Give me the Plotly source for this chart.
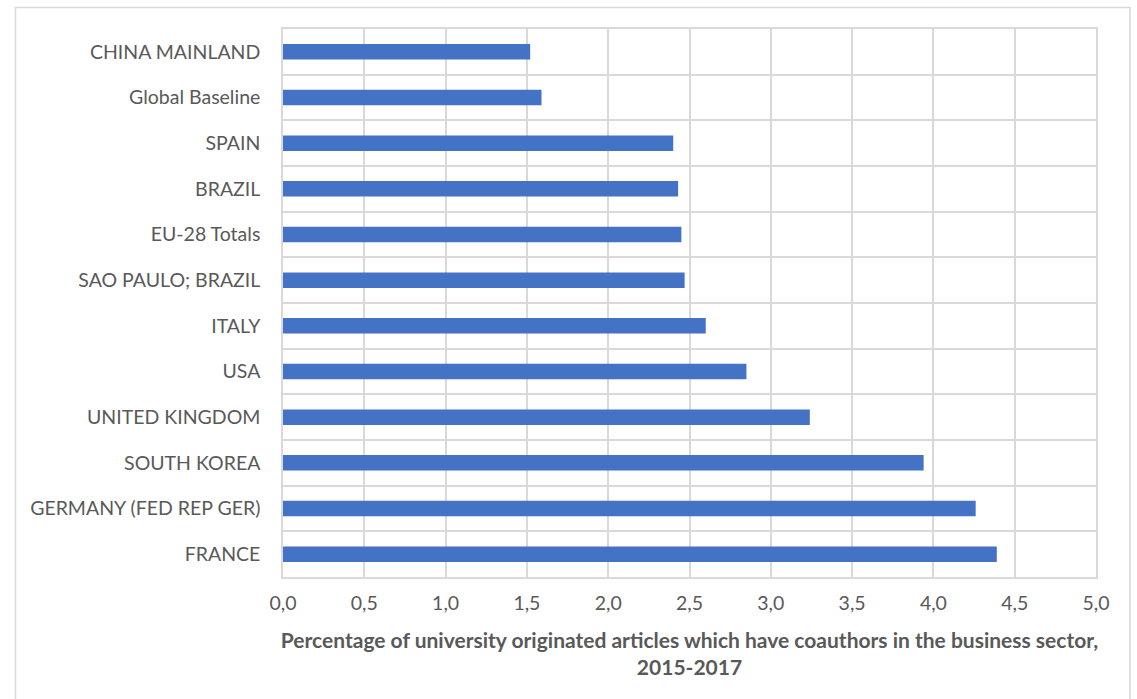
import plotly.graph_objects as go

categories = ["CHINA MAINLAND", "Global Baseline", "SPAIN", "BRAZIL", "EU-28 Totals",
              "SAO PAULO; BRAZIL", "ITALY", "USA", "UNITED KINGDOM", "SOUTH KOREA",
              "GERMANY (FED REP GER)", "FRANCE"]
values = [1.52, 1.59, 2.40, 2.43, 2.45, 2.47, 2.60, 2.85, 3.24, 3.94, 4.26, 4.39]

x_title = ("Percentage of university originated articles which have coauthors in the business sector,"
           "<br>2015-2017")

n = len(categories)
pos = list(range(n))

W, H = 1137, 699
L, R, T, B = 283, 41, 29, 122
pw, ph = W - L - R, H - T - B

fig = go.Figure(go.Bar(
    x=values, y=pos, orientation="h",
    marker=dict(color="#4472C4", line=dict(width=0)),
    width=0.34,
))

font_family = "Lato, 'Open Sans', sans-serif"
grid = "#D9D9D9"

fig.update_layout(
    width=W, height=H,
    margin=dict(l=L, r=R, t=T, b=B),
    paper_bgcolor="white", plot_bgcolor="white",
    separators=", ",
    font=dict(family=font_family, size=19.5, color="#595959"),
    showlegend=False,
    xaxis=dict(
        range=[0, 5], dtick=0.5, tick0=0, tickformat=".1f",
        showgrid=True, gridcolor=grid, gridwidth=1.5,
        zeroline=False, showline=True, mirror=True, linecolor=grid, linewidth=1.5,
        ticks="", ticklabelstandoff=8,
        tickfont=dict(size=19.5, color="#595959"),
        title=dict(text=x_title, font=dict(size=21, color="#595959", family=font_family, weight="bold"),
                   standoff=20),
    ),
    yaxis=dict(
        range=[n - 0.5, -0.5],
        tickmode="array", tickvals=pos, ticktext=categories,
        showgrid=False, zeroline=False,
        showline=True, linecolor=grid, linewidth=1.5, mirror=True,
        ticks="", ticklabelstandoff=17,
        tickfont=dict(size=19.5, color="#595959"),
        minor=dict(tickmode="array", tickvals=[p + 0.5 for p in pos[:-1]],
                   showgrid=True, gridcolor=grid, gridwidth=1.5, ticks=""),
    ),
    shapes=[dict(
        type="rect", xref="paper", yref="paper",
        x0=(15.5 - L) / pw, x1=(1130 - L) / pw,
        y0=-0.4, y1=(H - B - 7.5) / ph,
        line=dict(color="#D9D9D9", width=1.5), fillcolor="rgba(0,0,0,0)", layer="below",
    )],
)

fig.write_html("out.html")
